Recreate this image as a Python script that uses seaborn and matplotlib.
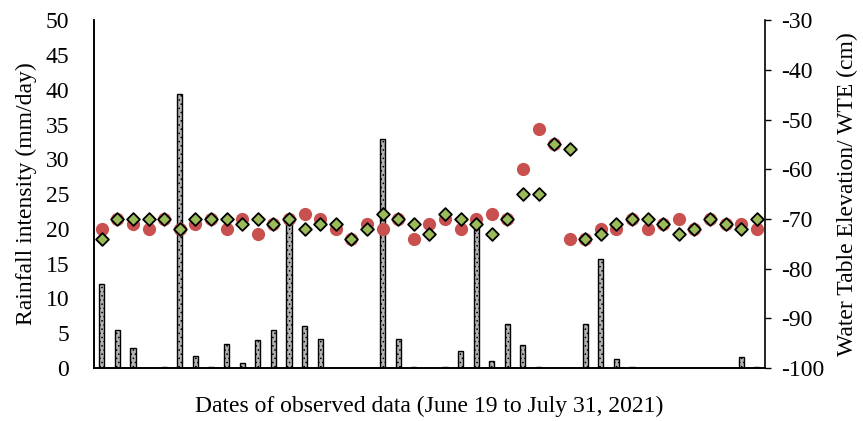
import numpy as np
import pandas as pd
import matplotlib
matplotlib.use("Agg")
import matplotlib.pyplot as plt
import seaborn as sns

# dates of observation (June 19 to July 31, 2021)
dates = pd.date_range("2021-06-19", "2021-07-31").strftime("%m-%d").tolist()

# daily rainfall (mm/day)
rainfall = [12.0, 5.5, 2.8, 0.0, 0.1, 39.4, 1.7, 0.1, 3.5, 0.7,
            4.0, 5.5, 21.3, 6.0, 4.1, 0.0, 0.0, 0.0, 32.9, 4.1,
            0.2, 0.0, 0.2, 2.4, 20.8, 1.0, 6.3, 3.3, 0.1, 0.0,
            0.0, 6.3, 15.6, 1.25, 0.2, 0.0, 0.0, 0.0, 0.0, 0.0,
            0.0, 1.6, 0.1]

# water table elevation (cm), red circles
wte_obs = [-72, -70, -71, -72, -70, -72, -71, -70, -72, -70,
           -73, -71, -70, -69, -70, -72, -74, -71, -72, -70,
           -74, -71, -70, -72, -70, -69, -70, -60, -52, -55,
           -74, -74, -72, -72, -70, -72, -71, -70, -72, -70,
           -71, -71, -72]

# water table elevation (cm), green diamonds
wte_sim = [-74, -70, -70, -70, -70, -72, -70, -70, -70, -71,
           -70, -71, -70, -72, -71, -71, -74, -72, -69, -70,
           -71, -73, -69, -70, -71, -73, -70, -65, -65, -55,
           -56, -74, -73, -71, -70, -70, -71, -73, -72, -70,
           -71, -72, -70]

sns.set_theme(style="white", rc={"text.color": "black", "axes.labelcolor": "black",
                                 "xtick.color": "black", "ytick.color": "black"})
plt.rcParams["font.family"] = ["Liberation Serif", "DejaVu Serif"]
plt.rcParams["axes.unicode_minus"] = False
plt.rcParams["hatch.linewidth"] = 0.6

fig = plt.figure(figsize=(8.63, 4.21), dpi=100)
ax = fig.add_axes([0.109, 0.126, 0.777, 0.826])

fs = 17

# rainfall bars
sns.barplot(x=dates, y=rainfall, ax=ax, color="#b4b4b4", width=0.33,
            edgecolor="black", linewidth=1.0, hatch="....", saturation=1)

ax.set_ylim(0, 50)
ax.set_yticks(np.arange(0, 51, 5))
ax.set_xticks([])
ax.set_xlabel("Dates of observed data (June 19 to July 31, 2021)", fontsize=fs, labelpad=20)
ax.set_ylabel("Rainfall intensity (mm/day)", fontsize=fs, labelpad=6)
ax.tick_params(axis="y", length=0, pad=18, labelsize=fs)

# water table elevation on the right axis
ax2 = ax.twinx()
sns.stripplot(x=dates, y=wte_obs, ax=ax2, jitter=False, color="#c8504e",
              size=9.5, marker="o", linewidth=0, zorder=3)
sns.stripplot(x=dates, y=wte_sim, ax=ax2, jitter=False, color="#9bbb59",
              size=6.5, marker="D", edgecolor="black", linewidth=1.3, zorder=4)

ax2.set_ylim(-100, -30)
ax2.set_yticks(np.arange(-100, -29, 10))
ax2.set_ylabel("Water Table Elevation/ WTE (cm)", fontsize=fs, labelpad=9)
ax2.tick_params(axis="y", length=4, width=1, pad=8, labelsize=fs, direction="out", right=True)
ax2.set_xticks([])
ax.set_xlim(-0.5, len(dates) - 0.5)

for a in (ax, ax2):
    for side in ("left", "bottom", "right"):
        a.spines[side].set_visible(True)
        a.spines[side].set_color("black")
        a.spines[side].set_linewidth(1.2)
    a.spines["top"].set_visible(False)
ax.spines["right"].set_visible(False)

plt.savefig("out.png", dpi=100)
